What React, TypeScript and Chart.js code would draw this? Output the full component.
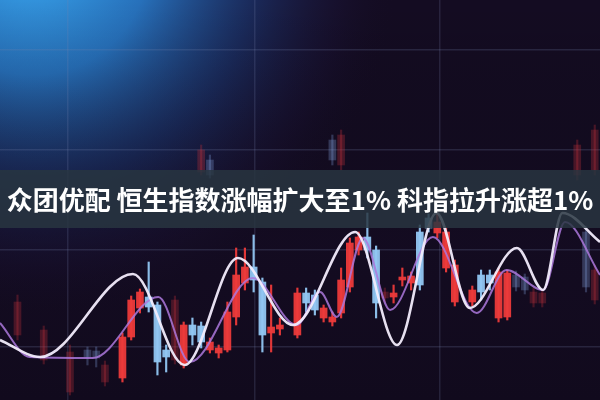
import React, { useEffect, useRef } from "react";
import { Chart, registerables } from "chart.js";

Chart.register(...registerables);

const TITLE = "众团优配 恒生指数涨幅扩大至1% 科指拉升涨超1%";

// main candles: day index, open, close, high, low
const candleDay = [14, 15, 16, 17, 18, 19, 21, 22, 23, 24, 25, 26, 27, 28, 29, 30, 31, 32, 34, 35, 36, 37, 38, 39, 40, 41, 42, 43, 45, 46, 47, 48, 49, 50, 51, 52, 54, 55, 56, 57, 58];
const candleOpen = [2.2, 6.3, 9.2, 10.3, 9.5, 5.0, 3.5, 7.5, 7.4, 5.0, 4.7, 5.0, 8.3, 11.7, 13.3, 11.8, 6.7, 7.1, 6.5, 10.7, 10.5, 8.2, 7.8, 8.7, 11.3, 15.0, 16.3, 15.0, 10.3, 12.0, 11.7, 16.8, 18.2, 16.7, 13.2, 9.8, 9.8, 12.5, 12.5, 8.2, 8.3];
const candleClose = [6.3, 10.0, 10.8, 9.3, 3.8, 4.3, 7.5, 6.5, 5.8, 5.8, 5.2, 8.8, 12.5, 13.3, 12.0, 6.5, 7.3, 7.5, 10.7, 9.7, 9.0, 9.2, 8.3, 12.0, 15.7, 16.3, 15.0, 9.7, 10.7, 12.3, 12.4, 11.5, 17.2, 17.8, 16.8, 13.5, 11.0, 10.8, 11.7, 12.8, 12.7];
const candleHigh = [6.7, 10.4, 11.1, 13.8, 9.8, 5.5, 7.8, 8.2, 7.8, 6.2, 5.5, 9.8, 15.2, 15.2, 16.5, 12.2, 11.5, 8.2, 11.2, 11.2, 11.0, 9.5, 8.8, 13.2, 16.2, 16.8, 18.7, 15.4, 11.5, 13.2, 12.8, 17.5, 18.6, 18.8, 17.2, 14.0, 11.4, 13.0, 13.0, 13.2, 13.0];
const candleLow = [1.8, 6.0, 8.7, 8.8, 2.5, 2.8, 3.2, 5.5, 5.2, 4.7, 4.2, 4.8, 7.5, 11.0, 10.8, 4.8, 4.8, 6.5, 6.2, 8.8, 8.5, 7.8, 7.4, 8.2, 10.8, 14.5, 14.2, 8.2, 9.7, 11.4, 11.0, 11.0, 16.8, 16.2, 12.8, 9.4, 9.4, 10.0, 11.0, 7.8, 8.0];

// faded (background) candles
const fadedDay = [2, 5, 8, 10, 11, 12, 20, 44, 59, 60, 61, 62, 67, 68, 23, 24, 38, 39, 66, 68];
const fadedOpen = [6.5, 4.0, 0.8, 5.0, 4.9, 1.8, 4.0, 10.2, 12.5, 12.3, 9.7, 9.7, 16.8, 10.0, 22.8, 24.0, 26.0, 23.5, 22.5, 23.0];
const fadedClose = [9.8, 7.0, 4.8, 4.3, 4.2, 3.5, 10.0, 10.8, 11.3, 11.0, 10.8, 10.7, 11.3, 13.0, 25.0, 22.5, 24.0, 26.5, 25.5, 27.0];
const fadedHigh = [10.5, 7.4, 5.5, 5.3, 5.3, 3.9, 10.4, 11.2, 12.9, 12.6, 11.2, 11.0, 17.4, 13.5, 25.5, 24.5, 26.5, 27.0, 26.0, 27.5];
const fadedLow = [6.0, 3.6, 0.5, 3.5, 3.3, 1.4, 3.6, 9.8, 10.9, 10.6, 9.3, 9.3, 10.8, 9.6, 22.5, 22.2, 23.5, 23.0, 22.0, 22.5];

// moving-average style curves (day index, value)
const fastDay = [0, 4.6, 15.2, 21.1, 27.2, 33.5, 40.6, 45.4, 49.9, 53.7, 59.1, 62.1, 64.3, 68.6];
const fastValue = [6.0, 4.3, 12.6, 3.5, 14.2, 7.5, 16.8, 5.5, 18.7, 9.2, 15.2, 11.0, 18.7, 15.8];
const slowDay = [0, 3.4, 10.6, 18.1, 21.7, 28.9, 33.9, 36.6, 38.5, 41.5, 44.6, 49.5, 54.5, 57.9, 62.1, 64.6, 68.6];
const slowValue = [7.7, 4.3, 4.2, 10.3, 3.8, 12.2, 7.5, 10.8, 8.3, 16.2, 9.0, 16.3, 8.7, 13.0, 11.0, 17.8, 12.5];

const gridLevels = [5.3, 15, 25, 35];
const gridDays = [7.8, 29.1, 50.3];

const UP = "rgba(236,58,58,0.95)";
const DOWN = "rgba(145,198,242,0.95)";
const UP_F = "rgba(200,50,60,0.3)";
const DOWN_F = "rgba(130,160,220,0.3)";

export default function App() {
  const ref = useRef<HTMLCanvasElement | null>(null);

  useEffect(() => {
    document.body.style.margin = "0";
    const canvas = ref.current;
    if (!canvas) return;

    const isUp = (o: number, c: number) => c >= o;
    const mainCol = candleDay.map((_, i) => (isUp(candleOpen[i], candleClose[i]) ? UP : DOWN));
    const fadedCol = fadedDay.map((_, i) => (isUp(fadedOpen[i], fadedClose[i]) ? UP_F : DOWN_F));

    const bg = {
      id: "bg",
      beforeDraw(chart: any) {
        const { ctx, width, height } = chart;
        ctx.save();
        ctx.fillStyle = "#140c22";
        ctx.fillRect(0, 0, width, height);
        const g = ctx.createRadialGradient(30, -40, 10, 40, -40, 360);
        g.addColorStop(0, "rgba(55,160,232,1)");
        g.addColorStop(0.3, "rgba(40,118,195,0.95)");
        g.addColorStop(0.6, "rgba(30,62,128,0.6)");
        g.addColorStop(0.85, "rgba(30,25,70,0.25)");
        g.addColorStop(1, "rgba(20,12,34,0)");
        ctx.fillStyle = g;
        ctx.fillRect(0, 0, width, height);
        const g2 = ctx.createLinearGradient(0, 0, 0, height);
        g2.addColorStop(0, "rgba(0,0,0,0)");
        g2.addColorStop(0.6, "rgba(18,10,30,0.3)");
        g2.addColorStop(1, "rgba(14,8,24,0.5)");
        ctx.fillStyle = g2;
        ctx.fillRect(0, 0, width, height);
        ctx.restore();
      },
    };

    const chart = new Chart(canvas, {
      type: "bar",
      data: {
        datasets: [
          {
            type: "line",
            label: "fast",
            data: fastDay.map((d, i) => ({ x: d, y: fastValue[i] })),
            borderColor: "rgba(242,236,252,0.95)",
            borderWidth: 2.6,
            pointRadius: 0,
            cubicInterpolationMode: "monotone",
            order: 0,
          } as any,
          {
            type: "line",
            label: "slow",
            data: slowDay.map((d, i) => ({ x: d, y: slowValue[i] })),
            borderColor: "rgba(172,120,220,0.85)",
            borderWidth: 2,
            pointRadius: 0,
            cubicInterpolationMode: "monotone",
            order: 1,
          } as any,
          {
            label: "body",
            data: candleDay.map((d, i) => ({ x: d, y: [candleOpen[i], candleClose[i]] })),
            backgroundColor: mainCol,
            barThickness: 7,
            grouped: false,
            order: 2,
          } as any,
          {
            label: "wick",
            data: candleDay.map((d, i) => ({ x: d, y: [candleLow[i], candleHigh[i]] })),
            backgroundColor: mainCol,
            barThickness: 1.5,
            grouped: false,
            order: 3,
          } as any,
          {
            label: "fadedBody",
            data: fadedDay.map((d, i) => ({ x: d, y: [fadedOpen[i], fadedClose[i]] })),
            backgroundColor: fadedCol,
            barThickness: 7,
            grouped: false,
            order: 4,
          } as any,
          {
            label: "fadedWick",
            data: fadedDay.map((d, i) => ({ x: d, y: [fadedLow[i], fadedHigh[i]] })),
            backgroundColor: fadedCol,
            barThickness: 1.5,
            grouped: false,
            order: 5,
          } as any,
        ],
      },
      options: {
        responsive: false,
        animation: false,
        events: [],
        layout: { padding: 0 },
        plugins: { legend: { display: false }, tooltip: { enabled: false }, title: { display: false } },
        scales: {
          x: {
            type: "linear",
            min: 0,
            max: 68.6,
            offset: false,
            ticks: { display: false },
            border: { display: false },
            grid: { color: "rgba(120,130,175,0.2)", drawTicks: false, lineWidth: 1.5, offset: false },
            afterBuildTicks: (s: any) => {
              s.ticks = gridDays.map((v) => ({ value: v }));
            },
          },
          y: {
            min: 0,
            max: 40,
            ticks: { display: false },
            border: { display: false },
            grid: { color: "rgba(120,130,175,0.22)", drawTicks: false, lineWidth: 1.5 },
            afterBuildTicks: (s: any) => {
              s.ticks = gridLevels.map((v) => ({ value: v }));
            },
          },
        },
      },
      plugins: [bg],
    } as any);

    return () => chart.destroy();
  }, []);

  return (
    <div style={{ position: "relative", width: 600, height: 400, overflow: "hidden" }}>
      <canvas ref={ref} width={600} height={400} style={{ display: "block" }} />
      <div
        style={{
          position: "absolute",
          left: 0,
          top: 170,
          width: 600,
          height: 58,
          background: "rgba(40,54,64,0.84)",
          color: "#ffffff",
          fontFamily: '"Noto Sans CJK SC", "Noto Sans", sans-serif',
          fontWeight: 700,
          fontSize: 26,
          lineHeight: "58px",
          textAlign: "center",
          whiteSpace: "nowrap",
        }}
      >
        {TITLE}
      </div>
    </div>
  );
}
